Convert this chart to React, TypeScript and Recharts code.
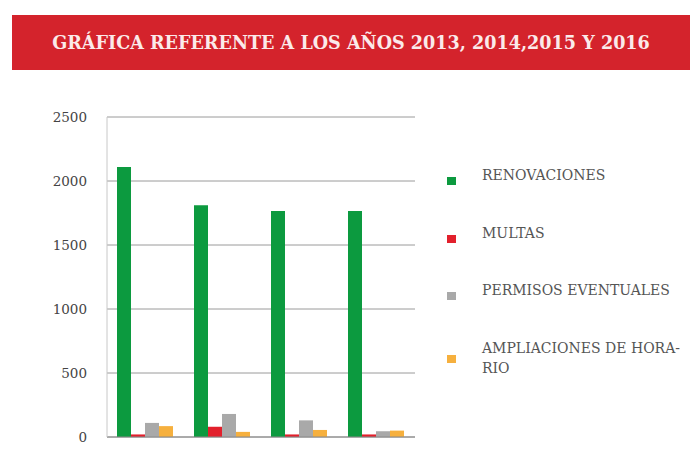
import { Bar, BarChart, CartesianGrid, XAxis, YAxis } from "recharts";

const anios = ["2013", "2014", "2015", "2016"];
const renovaciones = [2110, 1810, 1765, 1765];
const multas = [20, 80, 20, 20];
const permisos = [110, 180, 130, 45];
const ampliaciones = [85, 40, 55, 50];
const ticksY = [0, 500, 1000, 1500, 2000, 2500];

const series = [
  { key: "renovaciones", nombre: "RENOVACIONES", color: "#0c9a3f", valores: renovaciones },
  { key: "multas", nombre: "MULTAS", color: "#e2202c", valores: multas },
  { key: "permisos", nombre: "PERMISOS EVENTUALES", color: "#a9a9a9", valores: permisos },
  { key: "ampliaciones", nombre: "AMPLIACIONES DE HORA-\nRIO", color: "#f6b03e", valores: ampliaciones },
];

const datos = anios.map((a, i) => {
  const fila: Record<string, string | number> = { anio: a };
  series.forEach((s) => (fila[s.key] = s.valores[i]));
  return fila;
});

const serif = "'DejaVu Serif', serif";

export default function App() {
  return (
    <div
      style={{
        position: "absolute",
        left: 0,
        top: 0,
        width: 700,
        height: 476,
        background: "#fff",
        fontFamily: serif,
        overflow: "hidden",
      }}
    >
      <div
        style={{
          position: "absolute",
          left: 12,
          top: 15,
          width: 678,
          height: 55,
          background: "#d4232c",
          color: "#fbeaea",
          fontSize: 17.6,
          fontWeight: "bold",
          display: "flex",
          alignItems: "center",
          justifyContent: "center",
          fontFamily: serif,
        }}
      >
        GRÁFICA REFERENTE A LOS AÑOS 2013, 2014,2015 Y 2016
      </div>

      <div style={{ position: "absolute", left: 0, top: 0 }}>
        <BarChart
          width={700}
          height={476}
          data={datos}
          margin={{ top: 117, right: 285, left: 57, bottom: 37 }}
          barCategoryGap={10}
          barGap={0}
        >
          <CartesianGrid vertical={false} stroke="#9a9a9a" />
          <XAxis dataKey="anio" tick={false} height={2} stroke="#888" tickLine={false} />
          <YAxis
            domain={[0, 2500]}
            ticks={ticksY}
            width={50}
            tickLine={false}
            stroke="#c8c8c8"
            tickMargin={14}
            tick={{ fill: "#444", fontSize: 13.5, fontFamily: serif }}
          />
          {series.map((s) => (
            <Bar key={s.key} dataKey={s.key} fill={s.color} isAnimationActive={false} />
          ))}
        </BarChart>
      </div>

      {series.map((s, i) => (
        <div
          key={s.key}
          style={{
            position: "absolute",
            left: 447,
            top: 165 + i * 57.5,
            display: "flex",
            alignItems: "flex-start",
            color: "#555",
            fontSize: 14,
            lineHeight: "20px",
            fontFamily: serif,
          }}
        >
          <span
            style={{
              width: 9,
              height: 8,
              background: s.color,
              marginTop: i === 3 ? 17 : 12,
              marginRight: 26,
              display: "inline-block",
            }}
          />
          <span style={{ whiteSpace: "pre" }}>{s.nombre}</span>
        </div>
      ))}
    </div>
  );
}
